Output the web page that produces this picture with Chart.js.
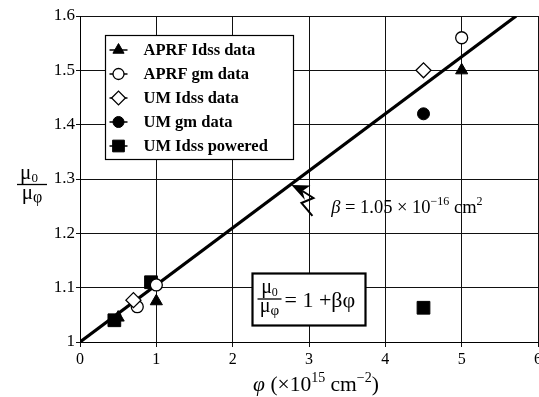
<!DOCTYPE html>
<html>
<head>
<meta charset="utf-8">
<script src="https://cdn.jsdelivr.net/npm/chart.js@4/dist/chart.umd.min.js"></script>
<style>
  html, body { margin: 0; padding: 0; background: #fff; overflow: hidden; }
  #wrap { width: 548px; height: 397px; }
</style>
</head>
<body>
<div id="wrap"><canvas id="c" width="548" height="397"></canvas></div>
<script>
// Mobility ratio mu0/mu_phi versus fluence phi (x 1e15 cm^-2)
const seriesNames = ['APRF Idss data', 'APRF gm data', 'UM Idss data', 'UM gm data', 'UM Idss powered'];

const aprfIdssX = [0.5, 1.0, 5.0];
const aprfIdssY = [1.045, 1.075, 1.50];

const aprfGmX = [0.75, 1.0, 5.0];
const aprfGmY = [1.065, 1.105, 1.56];

const umIdssX = [0.7, 4.5];
const umIdssY = [1.077, 1.50];

const umGmX = [4.5];
const umGmY = [1.42];

const umPoweredX = [0.45, 0.93, 4.5];
const umPoweredY = [1.04, 1.11, 1.063];

// Fit: mu0/mu_phi = 1 + beta*phi, beta = 1.05e-16 cm^2 -> 0.105 per 1e15 cm^-2
const beta = 0.105;

const xTickLabels = ['0', '1', '2', '3', '4', '5', '6'];
const yTickLabels = ['1', '1.1', '1.2', '1.3', '1.4', '1.5', '1.6'];

const SERIF = '"Liberation Serif", "Times New Roman", serif';

function pts(xs, ys) { return xs.map((x, i) => ({ x: x, y: ys[i] })); }

const yMin = 1.0, yMax = 1.6;
const fitEnd = (yMax - 1) / beta;

const styles = [
  { pointStyle: 'triangle', radius: 7,   bg: '#000', bw: 1 },
  { pointStyle: 'circle',   radius: 6,   bg: '#fff', bw: 1.3 },
  { pointStyle: 'rectRot',  radius: 7.5, bg: '#fff', bw: 1.3 },
  { pointStyle: 'circle',   radius: 6,   bg: '#000', bw: 1 },
  { pointStyle: 'rect',     radius: 9,   bg: '#000', bw: 1 }
];
// draw order: higher "order" is painted first
const drawOrder = [5, 2, 1, 0, 4];
const seriesData = [
  pts(aprfIdssX, aprfIdssY),
  pts(aprfGmX, aprfGmY),
  pts(umIdssX, umIdssY),
  pts(umGmX, umGmY),
  pts(umPoweredX, umPoweredY)
];

const datasets = seriesNames.map((name, i) => ({
  type: 'scatter',
  label: name,
  data: seriesData[i],
  pointStyle: styles[i].pointStyle,
  pointRadius: styles[i].radius,
  pointHoverRadius: styles[i].radius,
  backgroundColor: styles[i].bg,
  borderColor: '#000',
  borderWidth: styles[i].bw,
  order: drawOrder[i]
}));

datasets.push({
  type: 'line',
  label: 'fit',
  data: [{ x: 0, y: 1 }, { x: fitEnd, y: 1 + beta * fitEnd }],
  borderColor: '#000',
  borderWidth: 3.2,
  pointRadius: 0,
  fill: false,
  order: 10
});

// Draw a run of text pieces (with super/subscripts)
function richWidth(ctx, parts) {
  let w = 0;
  parts.forEach(p => { ctx.font = p.font; w += ctx.measureText(p.t).width; });
  return w;
}
function drawRich(ctx, parts, x, y, align) {
  let w = richWidth(ctx, parts);
  let cx = align === 'center' ? x - w / 2 : x;
  ctx.textBaseline = 'alphabetic';
  ctx.textAlign = 'left';
  parts.forEach(p => {
    ctx.font = p.font;
    ctx.fillText(p.t, cx, y + (p.dy || 0));
    cx += ctx.measureText(p.t).width;
  });
}

const annotations = {
  id: 'annotations',
  afterDatasetsDraw(chart) {
    const { ctx } = chart;
    const xs = chart.scales.x, ys = chart.scales.y;
    const px = v => xs.getPixelForValue(v);
    const py = v => ys.getPixelForValue(v);
    ctx.save();
    ctx.fillStyle = '#000';
    ctx.strokeStyle = '#000';

    // ---- legend box ----
    const lx0 = Math.round(px(0.325)) + 0.5, ly0 = Math.round(py(1.565)) + 0.5;
    const lx1 = Math.round(px(2.785)) + 0.5, ly1 = Math.round(py(1.337)) + 0.5;
    ctx.fillStyle = '#fff';
    ctx.fillRect(lx0, ly0, lx1 - lx0, ly1 - ly0);
    ctx.lineWidth = 1.2;
    ctx.strokeRect(lx0, ly0, lx1 - lx0, ly1 - ly0);
    seriesNames.forEach((name, i) => {
      const cy = ly0 + 14.5 + i * 24;
      const mx = lx0 + 13;
      ctx.lineWidth = 1.5;
      ctx.strokeStyle = '#000';
      ctx.beginPath();
      ctx.moveTo(mx - 9, cy);
      ctx.lineTo(mx + 9, cy);
      ctx.stroke();
      ctx.fillStyle = styles[i].bg;
      ctx.lineWidth = styles[i].bw;
      Chart.helpers.drawPoint(ctx, {
        pointStyle: styles[i].pointStyle,
        radius: styles[i].radius * 0.92,
        rotation: 0,
        borderWidth: styles[i].bw
      }, mx, cy);
      ctx.fillStyle = '#000';
      ctx.font = 'bold 16.5px ' + SERIF;
      ctx.textAlign = 'left';
      ctx.textBaseline = 'middle';
      ctx.fillText(name, lx0 + 38, cy + 1);
    });

    // ---- equation box ----
    const ex0 = Math.round(px(2.25)) + 0.5, ey0 = Math.round(py(1.127)) + 0.5;
    const ex1 = Math.round(px(3.735)) + 0.5, ey1 = Math.round(py(1.031)) + 0.5;
    ctx.fillStyle = '#fff';
    ctx.fillRect(ex0, ey0, ex1 - ex0, ey1 - ey0);
    ctx.lineWidth = 2.2;
    ctx.strokeStyle = '#000';
    ctx.strokeRect(ex0, ey0, ex1 - ex0, ey1 - ey0);
    ctx.fillStyle = '#000';
    const fcx = ex0 + 17, barY = ey0 + 25;
    drawRich(ctx, [
      { t: 'μ', font: '20px ' + SERIF },
      { t: '0', font: '12px ' + SERIF, dy: 3 }
    ], fcx, barY - 6, 'center');
    drawRich(ctx, [
      { t: 'μ', font: '20px ' + SERIF },
      { t: 'φ', font: '15px ' + SERIF, dy: 3 }
    ], fcx, barY + 13, 'center');
    ctx.lineWidth = 1.3;
    ctx.beginPath();
    ctx.moveTo(fcx - 12, barY + 0.5);
    ctx.lineTo(fcx + 12, barY + 0.5);
    ctx.stroke();
    drawRich(ctx, [
      { t: '= 1 +βφ', font: '22px ' + SERIF }
    ], fcx + 15, barY + 8, 'left');

    // ---- beta label ----
    drawRich(ctx, [
      { t: 'β', font: 'italic 18.5px ' + SERIF },
      { t: ' = 1.05 × 10', font: '18.5px ' + SERIF },
      { t: '−16', font: '12px ' + SERIF, dy: -8 },
      { t: ' cm', font: '18.5px ' + SERIF },
      { t: '2', font: '12px ' + SERIF, dy: -8 }
    ], px(3.29), py(1.2374), 'left');

    // ---- zig-zag arrow pointing at the fit line ----
    const tx = px(2.77), ty = py(1 + beta * 2.77) + 1;
    ctx.beginPath();
    ctx.moveTo(tx, ty);
    ctx.lineTo(tx + 19, ty + 0.5);
    ctx.lineTo(tx + 11, ty + 6);
    ctx.lineTo(tx + 13.5, ty + 15);
    ctx.closePath();
    ctx.fill();
    ctx.lineWidth = 2;
    ctx.lineJoin = 'miter';
    ctx.beginPath();
    ctx.moveTo(tx + 11, ty + 6);
    ctx.lineTo(tx + 22, ty + 13);
    ctx.lineTo(tx + 10, ty + 18);
    ctx.lineTo(tx + 21, ty + 31);
    ctx.stroke();

    ctx.restore();
  },
  afterDraw(chart) {
    const { ctx } = chart;
    const ca = chart.chartArea;
    ctx.save();
    ctx.fillStyle = '#000';
    ctx.strokeStyle = '#000';
    // y-axis title: fraction mu0 / mu_phi
    const ycx = 32, ybar = (ca.top + ca.bottom) / 2 + 5;
    drawRich(ctx, [
      { t: 'μ', font: '21px ' + SERIF },
      { t: '0', font: '13px ' + SERIF, dy: 3 }
    ], ycx - 3, ybar - 5, 'center');
    drawRich(ctx, [
      { t: 'μ', font: '21px ' + SERIF },
      { t: 'φ', font: '16px ' + SERIF, dy: 3 }
    ], ycx, ybar + 15, 'center');
    ctx.lineWidth = 1.3;
    ctx.beginPath();
    ctx.moveTo(ycx - 15, ybar + 0.5);
    ctx.lineTo(ycx + 15, ybar + 0.5);
    ctx.stroke();
    // x-axis title
    drawRich(ctx, [
      { t: 'φ', font: 'italic 21.5px ' + SERIF },
      { t: ' (×10', font: '21.5px ' + SERIF },
      { t: '15', font: '14px ' + SERIF, dy: -9 },
      { t: ' cm', font: '21.5px ' + SERIF },
      { t: '−2', font: '14px ' + SERIF, dy: -9 },
      { t: ')', font: '21.5px ' + SERIF }
    ], 316, 391, 'center');
    ctx.restore();
  }
};

new Chart(document.getElementById('c'), {
  type: 'scatter',
  data: { datasets: datasets },
  options: {
    responsive: false,
    animation: false,
    devicePixelRatio: 1,
    layout: { padding: { top: 16, right: 7, left: 0, bottom: 0 } },
    plugins: {
      legend: { display: false },
      tooltip: { enabled: false },
      title: { display: false }
    },
    scales: {
      x: {
        type: 'linear',
        min: 0, max: 6,
        ticks: {
          stepSize: 1,
          color: '#000',
          padding: 3,
          font: { family: SERIF, size: 16 },
          callback: (v, i) => xTickLabels[i]
        },
        grid: { color: '#111', lineWidth: 1, tickLength: 5, drawTicks: true },
        border: { color: '#000', width: 1 },
        afterFit: s => { s.height = 55; }
      },
      y: {
        type: 'linear',
        min: yMin, max: yMax,
        ticks: {
          stepSize: 0.1,
          color: '#000',
          padding: 1,
          font: { family: SERIF, size: 17 },
          callback: (v, i) => yTickLabels[i]
        },
        grid: { color: '#111', lineWidth: 1, tickLength: 4, drawTicks: true },
        border: { color: '#000', width: 1 },
        afterFit: s => { s.width = 80; }
      }
    }
  },
  plugins: [annotations]
});
</script>
</body>
</html>
